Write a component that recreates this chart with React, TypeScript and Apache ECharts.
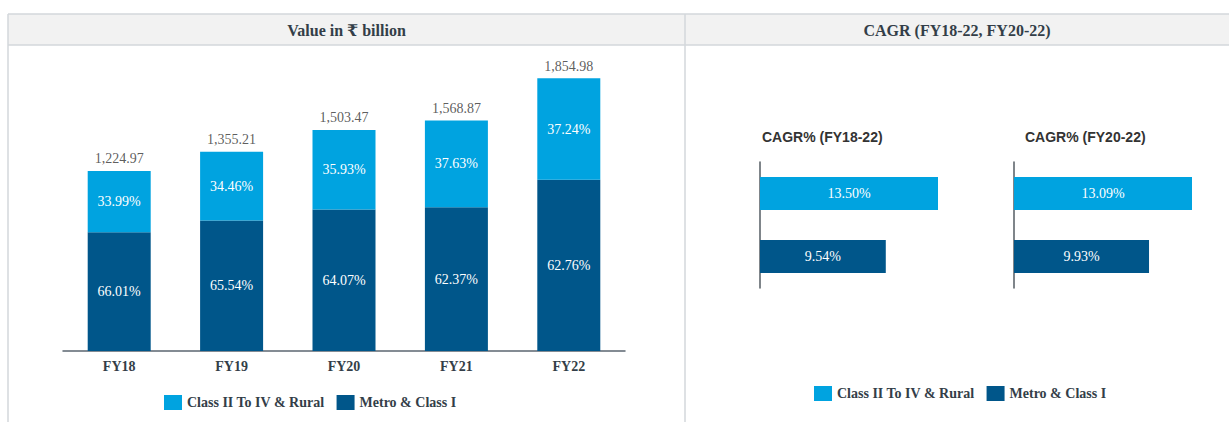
import React, { useEffect, useRef } from "react";
import * as echarts from "echarts";

const categories = ["FY18", "FY19", "FY20", "FY21", "FY22"];
const totals = [1224.97, 1355.21, 1503.47, 1568.87, 1854.98];
const classShare = [33.99, 34.46, 35.93, 37.63, 37.24];
const metroShare = [66.01, 65.54, 64.07, 62.37, 62.76];

const seriesNames = ["Class II To IV & Rural", "Metro & Class I"];
const cagrTitles = ["CAGR% (FY18-22)", "CAGR% (FY20-22)"];
const cagrFY18_22 = [13.5, 9.54];
const cagrFY20_22 = [13.09, 9.93];

const LIGHT = "#00A3E0";
const DARK = "#00568A";
const SERIF = "'Liberation Serif', 'DejaVu Serif', serif";
const SANS = "'Liberation Sans', Arial, sans-serif";
const TEXT = "#333e48";
const LINE = "#d3d7db";

const fmtTotal = (v: number) =>
  v.toLocaleString("en-US", { minimumFractionDigits: 2, maximumFractionDigits: 2 });

export default function App() {
  const ref = useRef<HTMLDivElement>(null);

  useEffect(() => {
    if (!ref.current) return;
    const chart = echarts.init(ref.current, null, { renderer: "svg" });

    const metroVals = totals.map((t, i) => (t * metroShare[i]) / 100);
    const classVals = totals.map((t, i) => (t * classShare[i]) / 100);

    const pctLabel = (shares: number[]) => ({
      show: true,
      position: "inside",
      color: "#ffffff",
      fontFamily: SERIF,
      fontSize: 14,
      formatter: (p: any) => shares[p.dataIndex].toFixed(2) + "%",
    });

    const cagrLabel = {
      show: true,
      position: "inside",
      color: "#ffffff",
      fontFamily: SERIF,
      fontSize: 14,
      formatter: (p: any) => Number(p.value).toFixed(2) + "%",
    };

    const hBar = (gridIdx: number, vals: number[]) => [
      {
        name: seriesNames[0],
        type: "bar",
        xAxisIndex: gridIdx,
        yAxisIndex: gridIdx,
        barWidth: 33,
        barGap: "-100%",
        itemStyle: { color: LIGHT },
        label: cagrLabel,
        data: [vals[0], "-"],
      },
      {
        name: seriesNames[1],
        type: "bar",
        xAxisIndex: gridIdx,
        yAxisIndex: gridIdx,
        barWidth: 33,
        barGap: "-100%",
        itemStyle: { color: DARK },
        label: cagrLabel,
        data: ["-", vals[1]],
      },
    ];

    const legendCommon = {
      data: seriesNames,
      itemWidth: 18,
      itemHeight: 15,
      itemGap: 12,
      padding: 0,
      icon: "rect",
      selectedMode: false,
      textStyle: { fontFamily: SERIF, fontSize: 14, fontWeight: "bold", color: TEXT },
    };

    const cagrTitle = (x: number, text: string) => ({
      type: "text",
      x,
      y: 137,
      style: {
        text,
        fontFamily: SANS,
        fontSize: 14,
        fontWeight: "bold",
        fill: "#333333",
        align: "left",
        verticalAlign: "middle",
      },
    });

    const headerTitle = (x: number, text: string) => ({
      type: "text",
      x,
      y: 30,
      style: {
        text,
        fontFamily: SERIF,
        fontSize: 16,
        fontWeight: "bold",
        fill: TEXT,
        align: "center",
        verticalAlign: "middle",
      },
    });

    chart.setOption({
      animation: false,
      textStyle: { fontFamily: SERIF },
      graphic: [
        {
          type: "rect",
          shape: { x: 8, y: 14, width: 1221, height: 31 },
          style: { fill: "#f2f2f2" },
          silent: true,
        },
        { type: "line", shape: { x1: 8, y1: 14, x2: 1229, y2: 14 }, style: { stroke: LINE, lineWidth: 1.5 } },
        { type: "line", shape: { x1: 8, y1: 45, x2: 1229, y2: 45 }, style: { stroke: LINE, lineWidth: 1.5 } },
        { type: "line", shape: { x1: 8, y1: 14, x2: 8, y2: 422 }, style: { stroke: LINE, lineWidth: 1.5 } },
        { type: "line", shape: { x1: 685, y1: 14, x2: 685, y2: 422 }, style: { stroke: LINE, lineWidth: 1.5 } },
        headerTitle(346.5, "Value in ₹ billion"),
        headerTitle(957, "CAGR (FY18-22, FY20-22)"),
        cagrTitle(762, cagrTitles[0]),
        cagrTitle(1025, cagrTitles[1]),
      ],
      legend: [
        { ...legendCommon, left: 164, top: 395 },
        { ...legendCommon, left: 814, top: 386 },
      ],
      grid: [
        { left: 63, width: 562, top: 57, height: 294 },
        { left: 760, width: 178, top: 162, height: 126 },
        { left: 1014, width: 178, top: 162, height: 126 },
      ],
      xAxis: [
        {
          type: "category",
          gridIndex: 0,
          data: categories,
          axisTick: { show: false },
          axisLine: { lineStyle: { color: "#5b6670", width: 1.5 } },
          axisLabel: {
            fontFamily: SERIF,
            fontSize: 14,
            fontWeight: "bold",
            color: TEXT,
            margin: 8,
          },
        },
        { type: "value", gridIndex: 1, min: 0, max: "dataMax", show: false },
        { type: "value", gridIndex: 2, min: 0, max: "dataMax", show: false },
      ],
      yAxis: [
        { type: "value", gridIndex: 0, min: 0, max: 2000, show: false },
        {
          type: "category",
          gridIndex: 1,
          inverse: true,
          data: seriesNames,
          axisTick: { show: false },
          axisLabel: { show: false },
          axisLine: { lineStyle: { color: "#555c63", width: 1.5 } },
        },
        {
          type: "category",
          gridIndex: 2,
          inverse: true,
          data: seriesNames,
          axisTick: { show: false },
          axisLabel: { show: false },
          axisLine: { lineStyle: { color: "#555c63", width: 1.5 } },
        },
      ],
      series: [
        {
          name: seriesNames[1],
          type: "bar",
          stack: "total",
          barWidth: 63,
          xAxisIndex: 0,
          yAxisIndex: 0,
          itemStyle: { color: DARK },
          label: pctLabel(metroShare),
          data: metroVals,
        },
        {
          name: seriesNames[0],
          type: "bar",
          stack: "total",
          barWidth: 63,
          xAxisIndex: 0,
          yAxisIndex: 0,
          itemStyle: { color: LIGHT },
          label: pctLabel(classShare),
          data: classVals,
        },
        {
          name: "Total",
          type: "scatter",
          xAxisIndex: 0,
          yAxisIndex: 0,
          symbolSize: 0,
          silent: true,
          label: {
            show: true,
            position: "top",
            distance: 5,
            color: "#333333",
            fontFamily: SERIF,
            fontSize: 14,
            formatter: (p: any) => fmtTotal(totals[p.dataIndex]),
          },
          data: totals,
        },
        ...hBar(1, cagrFY18_22),
        ...hBar(2, cagrFY20_22),
      ],
    });

    return () => chart.dispose();
  }, []);

  return (
    <div
      ref={ref}
      style={{ position: "absolute", left: 0, top: 0, width: 1229, height: 422, background: "#ffffff" }}
    />
  );
}
